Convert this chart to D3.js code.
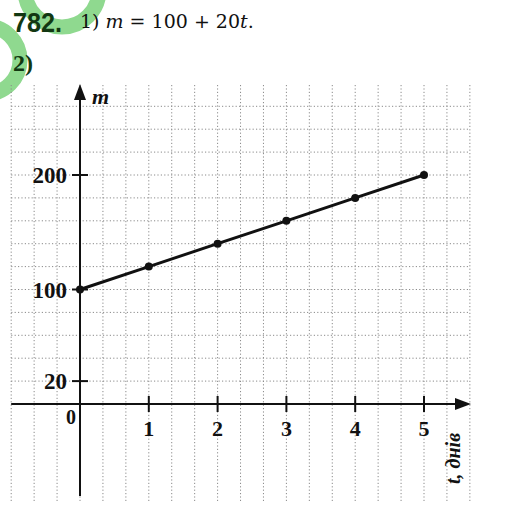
<!DOCTYPE html>
<meta charset="utf-8">
<style>
body { margin: 0; background: #fff; }
svg { display: block; }
.grid line { stroke: #8a8a8a; stroke-width: 1; stroke-dasharray: 1.2 2.2; }
.lbl { font-family: "Liberation Serif", serif; font-weight: bold; fill: #111; }
</style>
<svg width="511" height="509"></svg>
<script src="https://d3js.org/d3.v7.min.js"></script>
<script>

// data: m = 100 + 20t
var days = [0, 1, 2, 3, 4, 5];
var mass = [100, 120, 140, 160, 180, 200];
var xTicks = [1, 2, 3, 4, 5];
var yTicks = [20, 100, 200];

var svg = d3.select("svg");

var x = d3.scaleLinear().domain([0, 5]).range([80, 424]),
	y = d3.scaleLinear().domain([0, 200]).range([404, 175]);

// green watermark
svg.append("circle")
	.attr("cx", 62).attr("cy", -10).attr("r", 37)
	.attr("fill", "none").attr("stroke", "#8fd98f").attr("stroke-width", 15);
svg.append("circle")
	.attr("cx", -14).attr("cy", 60).attr("r", 34)
	.attr("fill", "none").attr("stroke", "#8fd98f").attr("stroke-width", 15);

// header
svg.append("text")
	.attr("x", 13).attr("y", 32)
	.attr("font-family", "Liberation Sans, Arial, sans-serif")
	.attr("font-weight", "bold").attr("font-size", 28)
	.attr("fill", "#123812")
	.attr("textLength", 49).attr("lengthAdjust", "spacingAndGlyphs")
	.text("782.");

var head = svg.append("text")
	.attr("x", 80).attr("y", 28)
	.attr("font-family", "DejaVu Serif, serif")
	.attr("font-size", 19).attr("fill", "#111");
head.append("tspan").text("1) ");
head.append("tspan").attr("font-style", "italic").text("m");
head.append("tspan").text(" = 100 + 20");
head.append("tspan").attr("font-style", "italic").text("t");
head.append("tspan").text(".");

svg.append("text")
	.attr("x", 13).attr("y", 71)
	.attr("font-family", "Liberation Serif, serif")
	.attr("font-weight", "bold").attr("font-size", 24)
	.attr("fill", "#123812")
	.text("2)");

// dotted grid, cells of 1/3 day and 20 kg
var gx = d3.range(-3, 18).map(function(k) { return k / 3; }),
	gy = d3.range(1, 14).map(function(k) { return k * 20; });

var grid = svg.append("g").attr("class", "grid");
grid.selectAll(".v").data(gx).enter().append("line")
	.attr("x1", function(d) { return x(d); })
	.attr("x2", function(d) { return x(d); })
	.attr("y1", 85).attr("y2", 502);
grid.selectAll(".h").data(gy).enter().append("line")
	.attr("x1", x(-1)).attr("x2", x(17 / 3))
	.attr("y1", function(d) { return y(d); })
	.attr("y2", function(d) { return y(d); });

// axes
svg.append("line")
	.attr("x1", x(-1)).attr("x2", 458)
	.attr("y1", y(0)).attr("y2", y(0))
	.attr("stroke", "#111").attr("stroke-width", 2);
svg.append("path")
	.attr("d", "M471," + y(0) + "L455," + (y(0) - 6) + "L455," + (y(0) + 6) + "Z")
	.attr("fill", "#111");

svg.append("line")
	.attr("x1", x(0)).attr("x2", x(0))
	.attr("y1", 496).attr("y2", 98)
	.attr("stroke", "#111").attr("stroke-width", 2);
svg.append("path")
	.attr("d", "M" + x(0) + ",84L" + (x(0) - 6) + ",100L" + (x(0) + 6) + ",100Z")
	.attr("fill", "#111");

// ticks
svg.selectAll(".xt").data(xTicks).enter().append("line")
	.attr("x1", function(d) { return x(d); })
	.attr("x2", function(d) { return x(d); })
	.attr("y1", y(0) - 8).attr("y2", y(0) + 8)
	.attr("stroke", "#111").attr("stroke-width", 2);
svg.selectAll(".yt").data(yTicks).enter().append("line")
	.attr("x1", x(0) - 8).attr("x2", x(0) + 8)
	.attr("y1", function(d) { return y(d); })
	.attr("y2", function(d) { return y(d); })
	.attr("stroke", "#111").attr("stroke-width", 2);

svg.selectAll(".xl").data(xTicks).enter().append("text")
	.attr("class", "lbl")
	.attr("x", function(d) { return x(d); })
	.attr("y", y(0) + 32)
	.attr("text-anchor", "middle")
	.attr("font-size", 22)
	.text(function(d) { return d; });
svg.selectAll(".yl").data(yTicks).enter().append("text")
	.attr("class", "lbl")
	.attr("x", x(0) - 13)
	.attr("y", function(d) { return y(d) + 8; })
	.attr("text-anchor", "end")
	.attr("font-size", 23)
	.text(function(d) { return d; });
svg.append("text")
	.attr("class", "lbl")
	.attr("x", 71).attr("y", y(0) + 20)
	.attr("text-anchor", "middle")
	.attr("font-size", 20)
	.text("0");

// axis names
svg.append("text")
	.attr("x", 92).attr("y", 104)
	.attr("font-family", "Liberation Serif, serif")
	.attr("font-style", "italic").attr("font-weight", "bold")
	.attr("font-size", 22).attr("fill", "#111")
	.text("m");
svg.append("text")
	.attr("transform", "translate(460,484) rotate(-90)")
	.attr("font-family", "Liberation Serif, serif")
	.attr("font-style", "italic").attr("font-weight", "bold")
	.attr("font-size", 20).attr("fill", "#111")
	.text("t, днів");

// graph
var pts = days.map(function(d, i) { return [d, mass[i]]; });
var line = d3.line()
	.x(function(d) { return x(d[0]); })
	.y(function(d) { return y(d[1]); });

svg.append("path")
	.attr("d", line(pts))
	.attr("fill", "none")
	.attr("stroke", "#111")
	.attr("stroke-width", 3);

svg.selectAll(".pt").data(pts).enter().append("circle")
	.attr("cx", function(d) { return x(d[0]); })
	.attr("cy", function(d) { return y(d[1]); })
	.attr("r", 4)
	.attr("fill", "#111");

</script>
